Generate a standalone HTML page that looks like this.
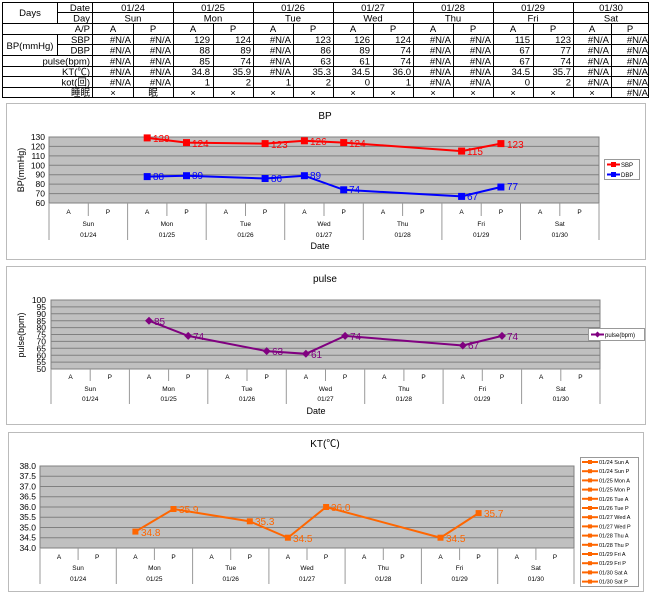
<!DOCTYPE html><html><head><meta charset="utf-8"><style>body{margin:0;background:#fff}svg{display:block}text{font-family:"Liberation Sans","Noto Sans CJK JP",sans-serif}</style></head><body>
<svg width="650" height="594" viewBox="0 0 650 594" xmlns="http://www.w3.org/2000/svg">
<!-- TABLE -->
<g stroke="#000" stroke-width="1" fill="none">
<rect x="2.5" y="2.5" width="646" height="95"/>
<line x1="57.5" y1="2" x2="57.5" y2="23"/><line x1="57.5" y1="34" x2="57.5" y2="55"/>
<line x1="92.5" y1="2" x2="92.5" y2="98"/>
<line x1="57" y1="12.5" x2="649" y2="12.5"/>
<line x1="2" y1="23.5" x2="649" y2="23.5"/><line x1="2" y1="34.5" x2="649" y2="34.5"/>
<line x1="57" y1="44.5" x2="649" y2="44.5"/><line x1="2" y1="55.5" x2="649" y2="55.5"/>
<line x1="2" y1="66.5" x2="649" y2="66.5"/><line x1="2" y1="76.5" x2="649" y2="76.5"/><line x1="2" y1="87.5" x2="649" y2="87.5"/>
<line x1="173.5" y1="2" x2="173.5" y2="98"/><line x1="253.5" y1="2" x2="253.5" y2="98"/><line x1="333.5" y1="2" x2="333.5" y2="98"/><line x1="413.5" y1="2" x2="413.5" y2="98"/><line x1="493.5" y1="2" x2="493.5" y2="98"/><line x1="573.5" y1="2" x2="573.5" y2="98"/>
<line x1="133.5" y1="23" x2="133.5" y2="98"/><line x1="213.5" y1="23" x2="213.5" y2="98"/><line x1="293.5" y1="23" x2="293.5" y2="98"/><line x1="373.5" y1="23" x2="373.5" y2="98"/><line x1="453.5" y1="23" x2="453.5" y2="98"/><line x1="533.5" y1="23" x2="533.5" y2="98"/><line x1="611.5" y1="23" x2="611.5" y2="98"/>
</g>
<g font-size="9.5" fill="#000">
<text x="30" y="16" text-anchor="middle">Days</text>
<text x="90" y="11" text-anchor="end">Date</text><text x="90" y="21.5" text-anchor="end">Day</text><text x="90" y="32" text-anchor="end">A/P</text>
<text x="90" y="43" text-anchor="end">SBP</text><text x="90" y="53.5" text-anchor="end">DBP</text>
<text x="30" y="49" text-anchor="middle">BP(mmHg)</text>
<text x="90" y="64.5" text-anchor="end">pulse(bpm)</text><text x="90" y="75" text-anchor="end">KT(℃)</text><text x="90" y="85.5" text-anchor="end">kot(回)</text><text x="90" y="96" text-anchor="end">睡眠</text>
<g text-anchor="middle">
<text x="133" y="11">01/24</text><text x="213" y="11">01/25</text><text x="293" y="11">01/26</text><text x="373" y="11">01/27</text><text x="453" y="11">01/28</text><text x="533" y="11">01/29</text><text x="611" y="11">01/30</text>
<text x="133" y="21.5">Sun</text><text x="213" y="21.5">Mon</text><text x="293" y="21.5">Tue</text><text x="373" y="21.5">Wed</text><text x="453" y="21.5">Thu</text><text x="533" y="21.5">Fri</text><text x="611" y="21.5">Sat</text>
<text x="113" y="32">A</text><text x="153" y="32">P</text><text x="193" y="32">A</text><text x="233" y="32">P</text><text x="273" y="32">A</text><text x="313" y="32">P</text><text x="353" y="32">A</text><text x="393" y="32">P</text><text x="433" y="32">A</text><text x="473" y="32">P</text><text x="513" y="32">A</text><text x="553" y="32">P</text><text x="592" y="32">A</text><text x="630" y="32">P</text>
<text x="113" y="96">×</text><text x="153" y="96">眠</text><text x="193" y="96">×</text><text x="233" y="96">×</text><text x="273" y="96">×</text><text x="313" y="96">×</text><text x="353" y="96">×</text><text x="393" y="96">×</text><text x="433" y="96">×</text><text x="473" y="96">×</text><text x="513" y="96">×</text><text x="553" y="96">×</text><text x="592" y="96">×</text>
</g>
<g text-anchor="end">
<text x="648" y="96">#N/A</text>
<text x="131" y="43">#N/A</text><text x="171" y="43">#N/A</text><text x="210" y="43">129</text><text x="251" y="43">124</text><text x="291" y="43">#N/A</text><text x="331" y="43">123</text><text x="370" y="43">126</text><text x="411" y="43">124</text><text x="451" y="43">#N/A</text><text x="491" y="43">#N/A</text><text x="530" y="43">115</text><text x="571" y="43">123</text><text x="609" y="43">#N/A</text><text x="648" y="43">#N/A</text>
<text x="131" y="53.5">#N/A</text><text x="171" y="53.5">#N/A</text><text x="210" y="53.5">88</text><text x="251" y="53.5">89</text><text x="291" y="53.5">#N/A</text><text x="331" y="53.5">86</text><text x="370" y="53.5">89</text><text x="411" y="53.5">74</text><text x="451" y="53.5">#N/A</text><text x="491" y="53.5">#N/A</text><text x="530" y="53.5">67</text><text x="571" y="53.5">77</text><text x="609" y="53.5">#N/A</text><text x="648" y="53.5">#N/A</text>
<text x="131" y="64.5">#N/A</text><text x="171" y="64.5">#N/A</text><text x="210" y="64.5">85</text><text x="251" y="64.5">74</text><text x="291" y="64.5">#N/A</text><text x="331" y="64.5">63</text><text x="370" y="64.5">61</text><text x="411" y="64.5">74</text><text x="451" y="64.5">#N/A</text><text x="491" y="64.5">#N/A</text><text x="530" y="64.5">67</text><text x="571" y="64.5">74</text><text x="609" y="64.5">#N/A</text><text x="648" y="64.5">#N/A</text>
<text x="131" y="75">#N/A</text><text x="171" y="75">#N/A</text><text x="210" y="75">34.8</text><text x="251" y="75">35.9</text><text x="291" y="75">#N/A</text><text x="331" y="75">35.3</text><text x="370" y="75">34.5</text><text x="411" y="75">36.0</text><text x="451" y="75">#N/A</text><text x="491" y="75">#N/A</text><text x="530" y="75">34.5</text><text x="571" y="75">35.7</text><text x="609" y="75">#N/A</text><text x="648" y="75">#N/A</text>
<text x="131" y="85.5">#N/A</text><text x="171" y="85.5">#N/A</text><text x="210" y="85.5">1</text><text x="251" y="85.5">2</text><text x="291" y="85.5">1</text><text x="331" y="85.5">2</text><text x="370" y="85.5">0</text><text x="411" y="85.5">1</text><text x="451" y="85.5">#N/A</text><text x="491" y="85.5">#N/A</text><text x="530" y="85.5">0</text><text x="571" y="85.5">2</text><text x="609" y="85.5">#N/A</text><text x="648" y="85.5">#N/A</text>
</g>
</g>

<!-- BP CHART -->
<rect x="6.5" y="103.5" width="639" height="156" fill="#fff" stroke="#bbb"/>
<text x="325" y="119" font-size="10" text-anchor="middle">BP</text>
<rect x="49" y="137" width="550" height="66" fill="#c0c0c0" stroke="#808080"/>
<g stroke="#808080" stroke-width="1">
<line x1="49" y1="146.4" x2="599" y2="146.4"/><line x1="49" y1="155.9" x2="599" y2="155.9"/><line x1="49" y1="165.3" x2="599" y2="165.3"/><line x1="49" y1="174.7" x2="599" y2="174.7"/><line x1="49" y1="184.1" x2="599" y2="184.1"/><line x1="49" y1="193.6" x2="599" y2="193.6"/>
</g>
<g font-size="8.5" text-anchor="end">
<text x="45" y="140">130</text><text x="45" y="149.4">120</text><text x="45" y="158.9">110</text><text x="45" y="168.3">100</text><text x="45" y="177.7">90</text><text x="45" y="187.1">80</text><text x="45" y="196.6">70</text><text x="45" y="206">60</text>
</g>
<text transform="translate(24,170) rotate(-90)" font-size="9" text-anchor="middle">BP(mmHg)</text>
<g stroke="#999">
<line x1="49" y1="203" x2="49" y2="240"/><line x1="127.6" y1="203" x2="127.6" y2="240"/><line x1="206.2" y1="203" x2="206.2" y2="240"/><line x1="284.7" y1="203" x2="284.7" y2="240"/><line x1="363.3" y1="203" x2="363.3" y2="240"/><line x1="441.9" y1="203" x2="441.9" y2="240"/><line x1="520.5" y1="203" x2="520.5" y2="240"/><line x1="599" y1="203" x2="599" y2="240"/>
<line x1="88.3" y1="203" x2="88.3" y2="216"/><line x1="166.9" y1="203" x2="166.9" y2="216"/><line x1="245.5" y1="203" x2="245.5" y2="216"/><line x1="324" y1="203" x2="324" y2="216"/><line x1="402.6" y1="203" x2="402.6" y2="216"/><line x1="481.2" y1="203" x2="481.2" y2="216"/><line x1="559.8" y1="203" x2="559.8" y2="216"/>
</g>
<g font-size="6.5" text-anchor="middle">
<text x="68.6" y="214">A</text><text x="107.9" y="214">P</text><text x="147.2" y="214">A</text><text x="186.5" y="214">P</text><text x="225.8" y="214">A</text><text x="265.1" y="214">P</text><text x="304.4" y="214">A</text><text x="343.7" y="214">P</text><text x="383" y="214">A</text><text x="422.3" y="214">P</text><text x="461.6" y="214">A</text><text x="500.9" y="214">P</text><text x="540.2" y="214">A</text><text x="579.5" y="214">P</text>
<text x="88.3" y="226">Sun</text><text x="166.9" y="226">Mon</text><text x="245.5" y="226">Tue</text><text x="324" y="226">Wed</text><text x="402.6" y="226">Thu</text><text x="481.2" y="226">Fri</text><text x="559.8" y="226">Sat</text>
<text x="88.3" y="237">01/24</text><text x="166.9" y="237">01/25</text><text x="245.5" y="237">01/26</text><text x="324" y="237">01/27</text><text x="402.6" y="237">01/28</text><text x="481.2" y="237">01/29</text><text x="559.8" y="237">01/30</text>
</g>
<text x="320" y="249" font-size="9" text-anchor="middle">Date</text>
<polyline points="147.2,137.9 186.5,142.6 265.1,143.6 304.4,140.8 343.7,142.6 461.6,151.1 500.9,143.6" fill="none" stroke="#f00" stroke-width="2"/>
<g fill="#f00"><rect x="143.7" y="134.4" width="7" height="7"/><rect x="183" y="139.1" width="7" height="7"/><rect x="261.6" y="140.1" width="7" height="7"/><rect x="300.9" y="137.3" width="7" height="7"/><rect x="340.2" y="139.1" width="7" height="7"/><rect x="458.1" y="147.6" width="7" height="7"/><rect x="497.4" y="140.1" width="7" height="7"/></g>
<g fill="#f00" font-size="10"><text x="153" y="142">129</text><text x="192" y="147">124</text><text x="271" y="148">123</text><text x="310" y="145">126</text><text x="349" y="147">124</text><text x="467" y="155">115</text><text x="507" y="148">123</text></g>
<polyline points="147.2,176.6 186.5,175.7 265.1,178.5 304.4,175.7 343.7,189.8 461.6,196.4 500.9,187" fill="none" stroke="#00f" stroke-width="2"/>
<g fill="#00f"><rect x="143.7" y="173.1" width="7" height="7"/><rect x="183" y="172.2" width="7" height="7"/><rect x="261.6" y="175" width="7" height="7"/><rect x="300.9" y="172.2" width="7" height="7"/><rect x="340.2" y="186.3" width="7" height="7"/><rect x="458.1" y="192.9" width="7" height="7"/><rect x="497.4" y="183.5" width="7" height="7"/></g>
<g fill="#00f" font-size="10"><text x="153" y="180">88</text><text x="192" y="179">89</text><text x="271" y="182">86</text><text x="310" y="179">89</text><text x="349" y="193">74</text><text x="467" y="200">67</text><text x="507" y="190">77</text></g>
<rect x="604.5" y="159.5" width="35" height="20" fill="#fff" stroke="#999"/>
<line x1="607" y1="164.5" x2="620" y2="164.5" stroke="#f00" stroke-width="2"/><rect x="611" y="162" width="5" height="5" fill="#f00"/>
<line x1="607" y1="174.5" x2="620" y2="174.5" stroke="#00f" stroke-width="2"/><rect x="611" y="172" width="5" height="5" fill="#00f"/>
<text x="621" y="167" font-size="6">SBP</text><text x="621" y="177" font-size="6">DBP</text>

<!-- PULSE CHART -->
<rect x="6.5" y="266.5" width="639" height="158" fill="#fff" stroke="#bbb"/>
<text x="325" y="282" font-size="10" text-anchor="middle">pulse</text>
<rect x="51" y="300" width="549" height="69" fill="#c0c0c0" stroke="#808080"/>
<g stroke="#808080">
<line x1="51" y1="306.9" x2="600" y2="306.9"/><line x1="51" y1="313.8" x2="600" y2="313.8"/><line x1="51" y1="320.7" x2="600" y2="320.7"/><line x1="51" y1="327.6" x2="600" y2="327.6"/><line x1="51" y1="334.5" x2="600" y2="334.5"/><line x1="51" y1="341.4" x2="600" y2="341.4"/><line x1="51" y1="348.3" x2="600" y2="348.3"/><line x1="51" y1="355.2" x2="600" y2="355.2"/><line x1="51" y1="362.1" x2="600" y2="362.1"/>
</g>
<g font-size="8.5" text-anchor="end">
<text x="46" y="303">100</text><text x="46" y="310">95</text><text x="46" y="317">90</text><text x="46" y="323.8">85</text><text x="46" y="330.7">80</text><text x="46" y="337.6">75</text><text x="46" y="344.5">70</text><text x="46" y="351.4">65</text><text x="46" y="358.3">60</text><text x="46" y="365.2">55</text><text x="46" y="372">50</text>
</g>
<text transform="translate(24,335) rotate(-90)" font-size="9" text-anchor="middle">pulse(bpm)</text>
<g stroke="#999">
<line x1="51" y1="369" x2="51" y2="404"/><line x1="129.4" y1="369" x2="129.4" y2="404"/><line x1="207.8" y1="369" x2="207.8" y2="404"/><line x1="286.3" y1="369" x2="286.3" y2="404"/><line x1="364.7" y1="369" x2="364.7" y2="404"/><line x1="443.1" y1="369" x2="443.1" y2="404"/><line x1="521.6" y1="369" x2="521.6" y2="404"/><line x1="600" y1="369" x2="600" y2="404"/>
<line x1="90.2" y1="369" x2="90.2" y2="381"/><line x1="168.6" y1="369" x2="168.6" y2="381"/><line x1="247" y1="369" x2="247" y2="381"/><line x1="325.5" y1="369" x2="325.5" y2="381"/><line x1="403.9" y1="369" x2="403.9" y2="381"/><line x1="482.3" y1="369" x2="482.3" y2="381"/><line x1="560.8" y1="369" x2="560.8" y2="381"/>
</g>
<g font-size="6.5" text-anchor="middle">
<text x="70.6" y="379">A</text><text x="109.8" y="379">P</text><text x="149" y="379">A</text><text x="188.2" y="379">P</text><text x="227.4" y="379">A</text><text x="266.7" y="379">P</text><text x="305.9" y="379">A</text><text x="345.1" y="379">P</text><text x="384.3" y="379">A</text><text x="423.5" y="379">P</text><text x="462.8" y="379">A</text><text x="502" y="379">P</text><text x="541.2" y="379">A</text><text x="580.4" y="379">P</text>
<text x="90.2" y="391">Sun</text><text x="168.6" y="391">Mon</text><text x="247" y="391">Tue</text><text x="325.5" y="391">Wed</text><text x="403.9" y="391">Thu</text><text x="482.3" y="391">Fri</text><text x="560.8" y="391">Sat</text>
<text x="90.2" y="401">01/24</text><text x="168.6" y="401">01/25</text><text x="247" y="401">01/26</text><text x="325.5" y="401">01/27</text><text x="403.9" y="401">01/28</text><text x="482.3" y="401">01/29</text><text x="560.8" y="401">01/30</text>
</g>
<text x="316" y="414" font-size="9" text-anchor="middle">Date</text>
<polyline points="149,320.7 188.2,335.9 266.7,351.1 305.9,353.8 345.1,335.9 462.8,345.5 502,335.9" fill="none" stroke="#800080" stroke-width="2"/>
<g fill="#800080">
<path d="M149 316.7l4 4-4 4-4-4z"/><path d="M188.2 331.9l4 4-4 4-4-4z"/><path d="M266.7 347.1l4 4-4 4-4-4z"/><path d="M305.9 349.8l4 4-4 4-4-4z"/><path d="M345.1 331.9l4 4-4 4-4-4z"/><path d="M462.8 341.5l4 4-4 4-4-4z"/><path d="M502 331.9l4 4-4 4-4-4z"/>
</g>
<g fill="#800080" font-size="10"><text x="154" y="325">85</text><text x="193" y="340">74</text><text x="272" y="355">63</text><text x="311" y="358">61</text><text x="350" y="340">74</text><text x="468" y="349">67</text><text x="507" y="340">74</text></g>
<rect x="588.5" y="328.5" width="56" height="12" fill="#fff" stroke="#999"/>
<line x1="591" y1="334.5" x2="604" y2="334.5" stroke="#800080" stroke-width="2"/><path d="M597.5 331.5l3 3-3 3-3-3z" fill="#800080"/>
<text x="605" y="337" font-size="6">pulse(bpm)</text>

<!-- KT CHART -->
<rect x="8.5" y="432.5" width="635" height="159" fill="#fff" stroke="#bbb"/>
<text x="325" y="447" font-size="10" text-anchor="middle">KT(℃)</text>
<rect x="40" y="466" width="534" height="82" fill="#c0c0c0" stroke="#808080"/>
<g stroke="#808080">
<line x1="40" y1="476.25" x2="574" y2="476.25"/><line x1="40" y1="486.5" x2="574" y2="486.5"/><line x1="40" y1="496.75" x2="574" y2="496.75"/><line x1="40" y1="507" x2="574" y2="507"/><line x1="40" y1="517.25" x2="574" y2="517.25"/><line x1="40" y1="527.5" x2="574" y2="527.5"/><line x1="40" y1="537.75" x2="574" y2="537.75"/>
</g>
<g font-size="8.5" text-anchor="end">
<text x="36" y="469">38.0</text><text x="36" y="479.2">37.5</text><text x="36" y="489.5">37.0</text><text x="36" y="499.7">36.5</text><text x="36" y="510">36.0</text><text x="36" y="520.2">35.5</text><text x="36" y="530.5">35.0</text><text x="36" y="540.7">34.5</text><text x="36" y="551">34.0</text>
</g>
<g stroke="#999">
<line x1="40" y1="548" x2="40" y2="584"/><line x1="116.3" y1="548" x2="116.3" y2="584"/><line x1="192.6" y1="548" x2="192.6" y2="584"/><line x1="268.9" y1="548" x2="268.9" y2="584"/><line x1="345.1" y1="548" x2="345.1" y2="584"/><line x1="421.4" y1="548" x2="421.4" y2="584"/><line x1="497.7" y1="548" x2="497.7" y2="584"/><line x1="574" y1="548" x2="574" y2="584"/>
<line x1="78.1" y1="548" x2="78.1" y2="560"/><line x1="154.4" y1="548" x2="154.4" y2="560"/><line x1="230.7" y1="548" x2="230.7" y2="560"/><line x1="307" y1="548" x2="307" y2="560"/><line x1="383.3" y1="548" x2="383.3" y2="560"/><line x1="459.6" y1="548" x2="459.6" y2="560"/><line x1="535.9" y1="548" x2="535.9" y2="560"/>
</g>
<g font-size="6.5" text-anchor="middle">
<text x="59.1" y="559">A</text><text x="97.2" y="559">P</text><text x="135.4" y="559">A</text><text x="173.5" y="559">P</text><text x="211.6" y="559">A</text><text x="249.8" y="559">P</text><text x="287.9" y="559">A</text><text x="326.1" y="559">P</text><text x="364.2" y="559">A</text><text x="402.4" y="559">P</text><text x="440.5" y="559">A</text><text x="478.6" y="559">P</text><text x="516.8" y="559">A</text><text x="554.9" y="559">P</text>
<text x="78.1" y="570">Sun</text><text x="154.4" y="570">Mon</text><text x="230.7" y="570">Tue</text><text x="307" y="570">Wed</text><text x="383.3" y="570">Thu</text><text x="459.6" y="570">Fri</text><text x="535.9" y="570">Sat</text>
<text x="78.1" y="581">01/24</text><text x="154.4" y="581">01/25</text><text x="230.7" y="581">01/26</text><text x="307" y="581">01/27</text><text x="383.3" y="581">01/28</text><text x="459.6" y="581">01/29</text><text x="535.9" y="581">01/30</text>
</g>
<polyline points="135.4,531.6 173.5,509.05 249.8,521.35 287.9,537.75 326.1,507 440.5,537.75 478.6,513.15" fill="none" stroke="#ff6600" stroke-width="2"/>
<g fill="#ff6600"><rect x="132.4" y="528.6" width="6" height="6"/><rect x="170.5" y="506" width="6" height="6"/><rect x="246.8" y="518.3" width="6" height="6"/><rect x="284.9" y="534.7" width="6" height="6"/><rect x="323.1" y="504" width="6" height="6"/><rect x="437.5" y="534.7" width="6" height="6"/><rect x="475.6" y="510.1" width="6" height="6"/></g>
<g fill="#ff6600" font-size="10"><text x="141" y="536">34.8</text><text x="179" y="513">35.9</text><text x="255" y="525">35.3</text><text x="293" y="542">34.5</text><text x="331" y="511">36.0</text><text x="446" y="542">34.5</text><text x="484" y="517">35.7</text></g>
<rect x="580.5" y="457.5" width="58" height="129" fill="#fff" stroke="#999"/>
<g stroke="#ff6600" stroke-width="2">
<line x1="582" y1="462" x2="598" y2="462"/><line x1="582" y1="471.2" x2="598" y2="471.2"/><line x1="582" y1="480.4" x2="598" y2="480.4"/><line x1="582" y1="489.6" x2="598" y2="489.6"/><line x1="582" y1="498.8" x2="598" y2="498.8"/><line x1="582" y1="508" x2="598" y2="508"/><line x1="582" y1="517.2" x2="598" y2="517.2"/><line x1="582" y1="526.4" x2="598" y2="526.4"/><line x1="582" y1="535.6" x2="598" y2="535.6"/><line x1="582" y1="544.8" x2="598" y2="544.8"/><line x1="582" y1="554" x2="598" y2="554"/><line x1="582" y1="563.2" x2="598" y2="563.2"/><line x1="582" y1="572.4" x2="598" y2="572.4"/><line x1="582" y1="581.6" x2="598" y2="581.6"/>
</g>
<g fill="#ff6600"><rect x="588" y="460" width="4" height="4"/><rect x="588" y="469.2" width="4" height="4"/><rect x="588" y="478.4" width="4" height="4"/><rect x="588" y="487.6" width="4" height="4"/><rect x="588" y="496.8" width="4" height="4"/><rect x="588" y="506" width="4" height="4"/><rect x="588" y="515.2" width="4" height="4"/><rect x="588" y="524.4" width="4" height="4"/><rect x="588" y="533.6" width="4" height="4"/><rect x="588" y="542.8" width="4" height="4"/><rect x="588" y="552" width="4" height="4"/><rect x="588" y="561.2" width="4" height="4"/><rect x="588" y="570.4" width="4" height="4"/><rect x="588" y="579.6" width="4" height="4"/></g>
<g font-size="5.5">
<text x="599" y="464">01/24 Sun A</text><text x="599" y="473.2">01/24 Sun P</text><text x="599" y="482.4">01/25 Mon A</text><text x="599" y="491.6">01/25 Mon P</text><text x="599" y="500.8">01/26 Tue A</text><text x="599" y="510">01/26 Tue P</text><text x="599" y="519.2">01/27 Wed A</text><text x="599" y="528.4">01/27 Wed P</text><text x="599" y="537.6">01/28 Thu A</text><text x="599" y="546.8">01/28 Thu P</text><text x="599" y="556">01/29 Fri A</text><text x="599" y="565.2">01/29 Fri P</text><text x="599" y="574.4">01/30 Sat A</text><text x="599" y="583.6">01/30 Sat P</text>
</g>
</svg>
</body></html>
